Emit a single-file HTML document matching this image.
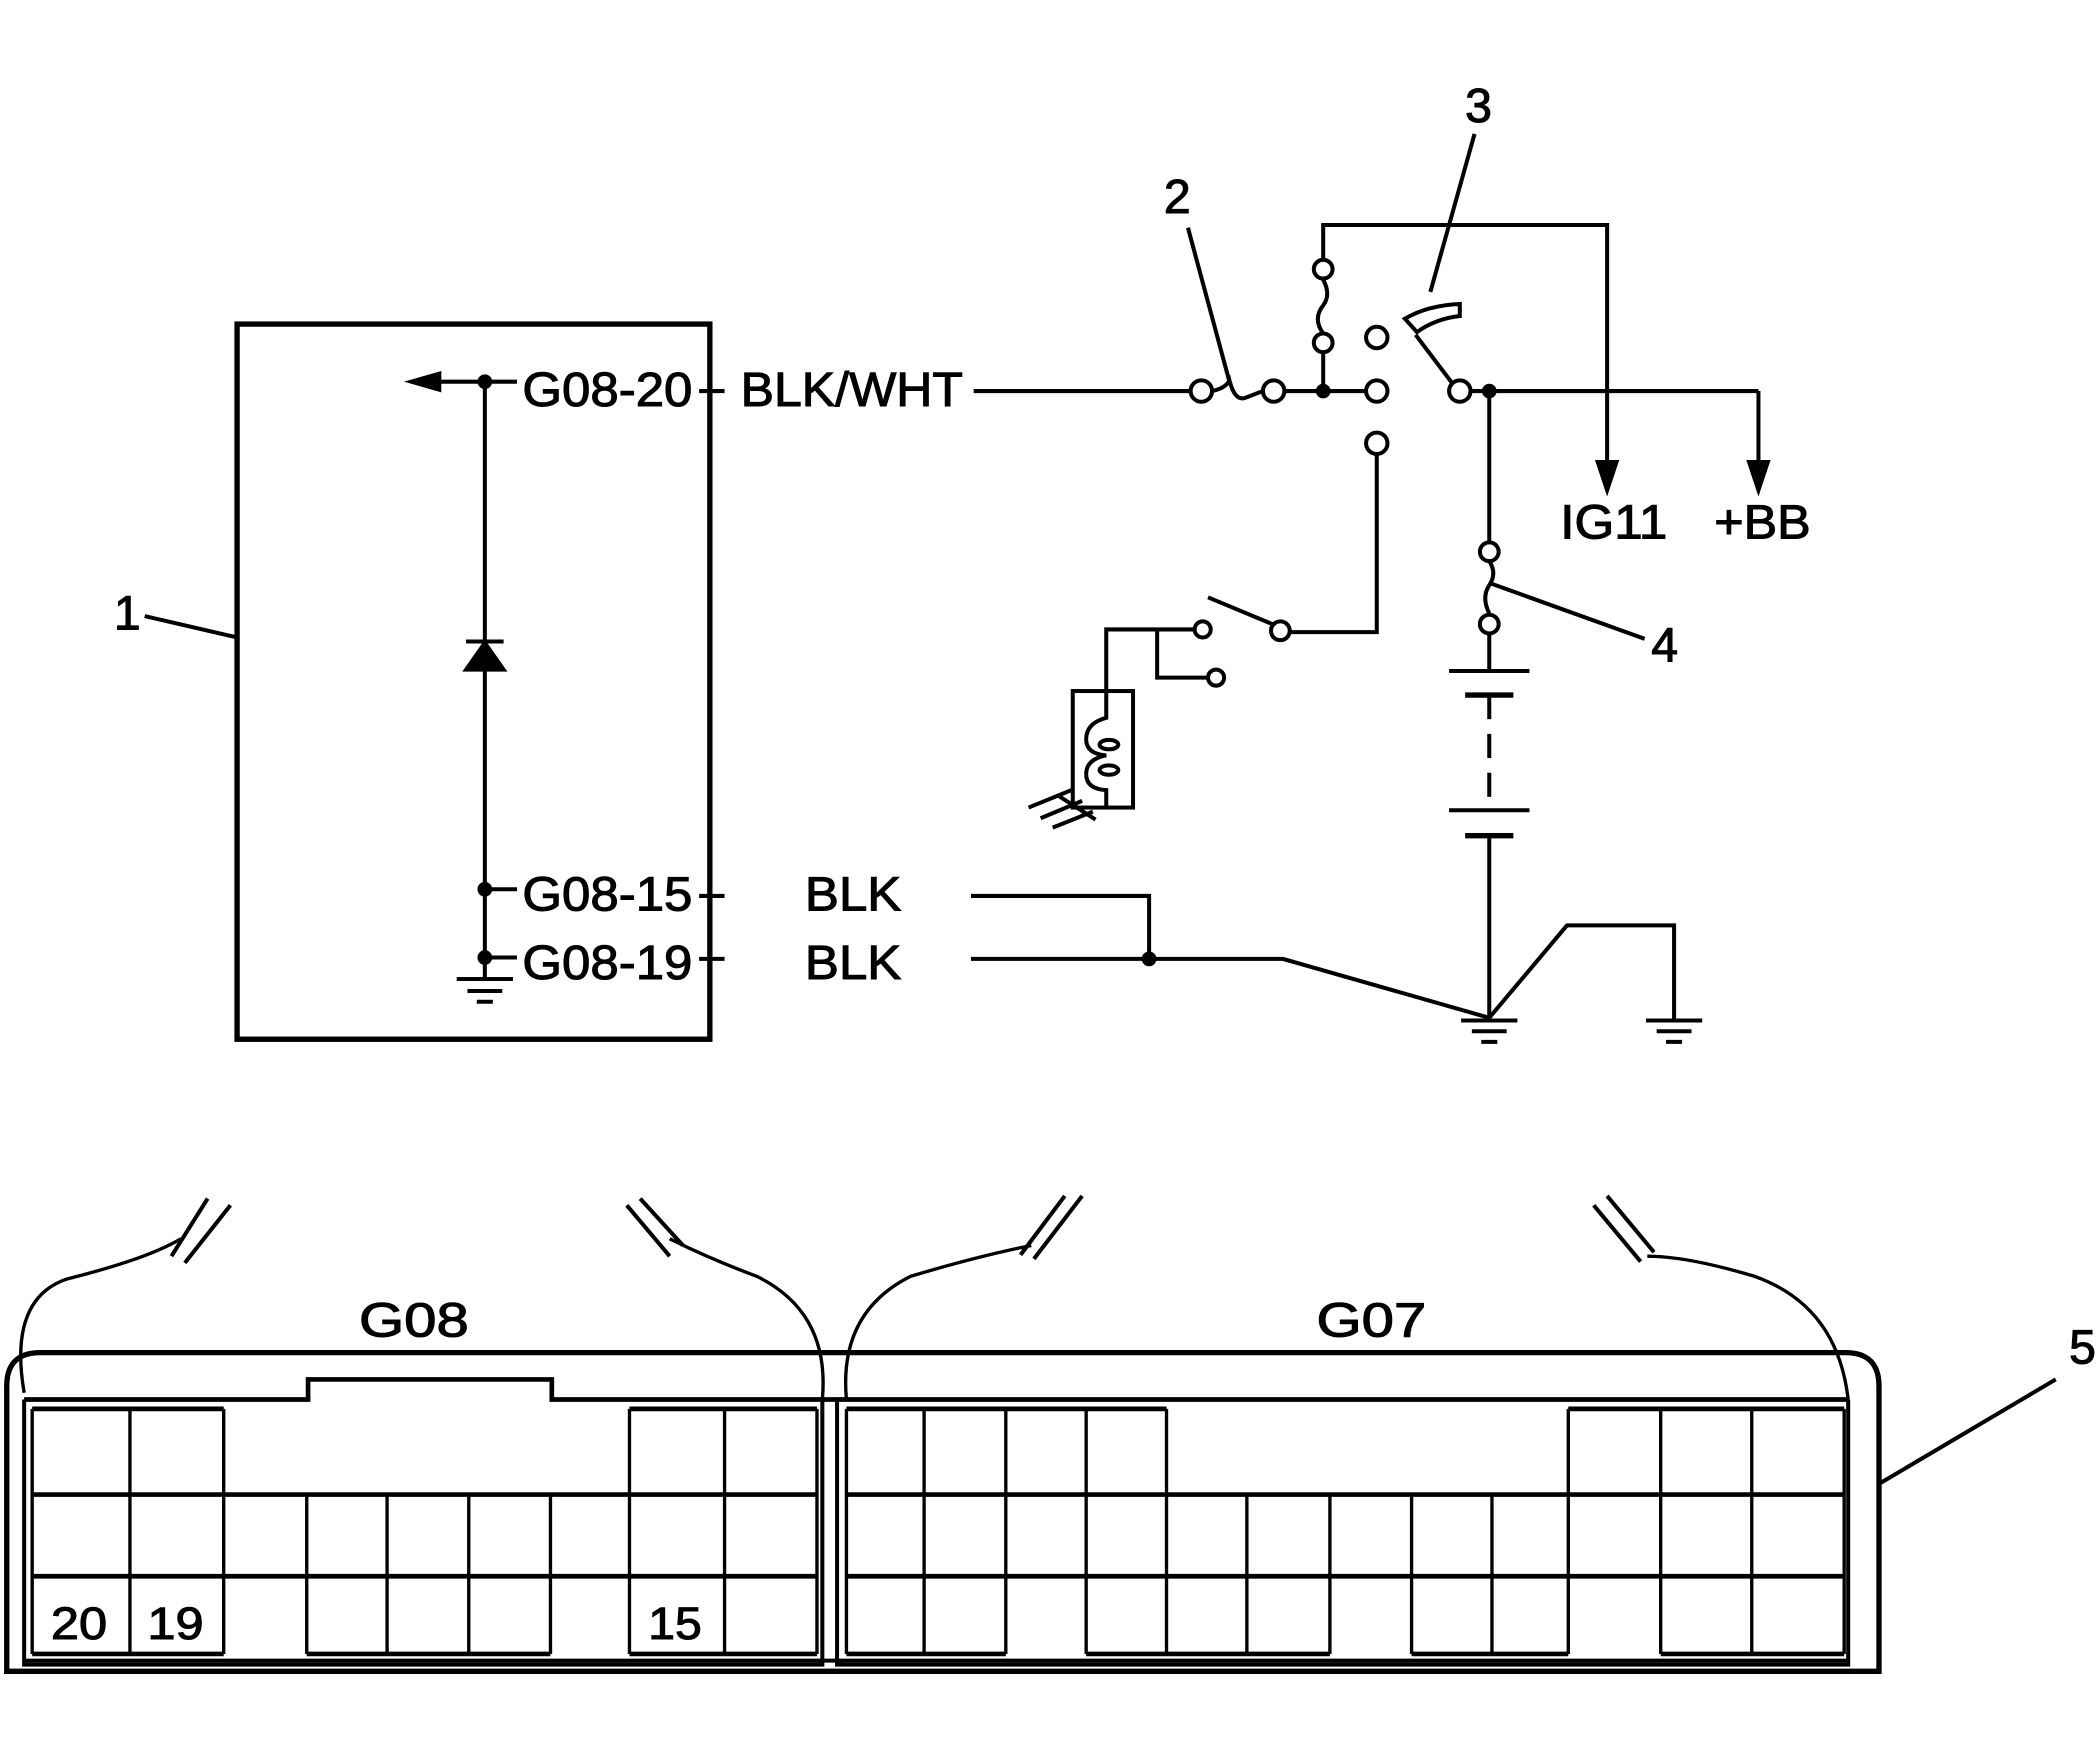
<!DOCTYPE html>
<html><head><meta charset="utf-8"><style>html,body{margin:0;padding:0;background:#fff}svg{display:block}</style></head>
<body>
<svg width="2100" height="1741" viewBox="0 0 1568 1300" xmlns="http://www.w3.org/2000/svg" font-family="Liberation Sans, sans-serif" fill="none" stroke="#000">
<g stroke-width="3">
<!-- box 1 -->
<rect x="177" y="242" width="353" height="534" stroke-width="4"/>
<line x1="108" y1="460" x2="177" y2="476"/>
<!-- internal -->
<line x1="362" y1="285" x2="362" y2="716"/>
<line x1="322" y1="285" x2="386" y2="285"/>
<polygon points="307,285 328,279 328,291" fill="#000"/>
<circle cx="362" cy="285" r="4" fill="#000"/>
<circle cx="362" cy="664" r="4" fill="#000"/>
<circle cx="362" cy="715" r="4" fill="#000"/>
<line x1="362" y1="664" x2="386" y2="664"/>
<line x1="362" y1="715" x2="386" y2="715"/>
<polygon points="348,500 376,500 362,480" fill="#000"/>
<line x1="348" y1="479" x2="376" y2="479" stroke-width="3"/>
<line x1="362" y1="715" x2="362" y2="730"/>
<line x1="341" y1="731" x2="383" y2="731" stroke-width="3"/>
<line x1="349" y1="740" x2="375" y2="740" stroke-width="3"/>
<line x1="356" y1="748" x2="368" y2="748" stroke-width="3"/>
<!-- pin ticks -->
<line x1="522" y1="292" x2="541" y2="292"/>
<line x1="522" y1="669" x2="541" y2="669"/>
<line x1="522" y1="716" x2="541" y2="716"/>
<!-- main wire -->
<line x1="727" y1="292" x2="888" y2="292"/>
<circle cx="897" cy="292" r="8" fill="#fff"/>
<path d="M905,292 Q915,290 918,284 Q922,300 930,297 L943,292"/>
<circle cx="951" cy="292" r="8" fill="#fff"/>
<line x1="959" y1="292" x2="1020" y2="292"/>
<circle cx="988" cy="292" r="4" fill="#000"/>
<line x1="988" y1="292" x2="988" y2="263"/>
<circle cx="988" cy="256" r="7" fill="#fff"/>
<path d="M988,249 Q980,238 988,228 Q994,220 988,209"/>
<circle cx="988" cy="201" r="7" fill="#fff"/>
<path d="M988,194 L988,168 L1200,168 L1200,350"/>
<polygon points="1193,345 1207,345 1200,366" fill="#000"/>
<circle cx="1028" cy="252" r="8" fill="#fff"/>
<circle cx="1028" cy="292" r="8" fill="#fff"/>
<circle cx="1028" cy="331" r="8" fill="#fff"/>
<path d="M1028,339 L1028,472 L963,472"/>
<circle cx="956" cy="471" r="7" fill="#fff"/>
<line x1="950" y1="466" x2="902" y2="446"/>
<circle cx="898" cy="470" r="6" fill="#fff"/>
<circle cx="908" cy="506" r="6" fill="#fff"/>
<path d="M892,470 L826,470 L826,516"/>
<path d="M902,506 L864,506 L864,470"/>
<rect x="801" y="516" width="45" height="87" stroke-width="3"/>
<path d="M826,516 L826,536 Q811,540 811,552 Q811,563 826,564 Q811,567 811,578 Q811,589 826,590 L826,603"/>
<ellipse cx="828" cy="556" rx="7" ry="3.5"/>
<ellipse cx="828" cy="575" rx="7" ry="3.5"/>
<line x1="790" y1="594" x2="818" y2="612" stroke-width="3"/>
<line x1="768" y1="603" x2="800" y2="590"/>
<line x1="777" y1="611" x2="808" y2="598"/>
<line x1="786" y1="618" x2="816" y2="606"/>
<!-- switch 3 -->
<path d="M1049,238 Q1066,228 1090,227 L1090,236 Q1072,238 1058,248 Z" fill="#fff"/>
<line x1="1057" y1="250" x2="1085" y2="287"/>
<line x1="1068" y1="218" x2="1101" y2="100"/>
<circle cx="1090" cy="292" r="8" fill="#fff"/>
<line x1="1098" y1="292" x2="1313" y2="292"/>
<circle cx="1112" cy="292" r="4" fill="#000"/>
<line x1="1313" y1="292" x2="1313" y2="350"/>
<polygon points="1306,345 1320,345 1313,366" fill="#000"/>
<line x1="1112" y1="292" x2="1112" y2="405"/>
<circle cx="1112" cy="412" r="7" fill="#fff"/>
<path d="M1112,419 Q1118,428 1112,437 Q1106,446 1112,458"/>
<circle cx="1112" cy="466" r="7" fill="#fff"/>
<line x1="1114" y1="436" x2="1228" y2="477"/>
<line x1="1112" y1="473" x2="1112" y2="501"/>
<line x1="1082" y1="501" x2="1142" y2="501" stroke-width="3"/>
<line x1="1094" y1="519" x2="1130" y2="519" stroke-width="4"/>
<line x1="1112" y1="519" x2="1112" y2="537"/>
<line x1="1112" y1="548" x2="1112" y2="566"/>
<line x1="1112" y1="577" x2="1112" y2="595"/>
<line x1="1082" y1="605" x2="1142" y2="605" stroke-width="3"/>
<line x1="1094" y1="624" x2="1130" y2="624" stroke-width="4"/>
<line x1="1112" y1="624" x2="1112" y2="760"/>
<!-- ground wires -->
<path d="M725,669 L858,669 L858,716"/>
<path d="M725,716 L958,716 L1112,760"/>
<circle cx="858" cy="716" r="4" fill="#000"/>
<path d="M1112,760 L1170,691 L1250,691 L1250,762"/>
<line x1="1091" y1="762" x2="1133" y2="762" stroke-width="3"/>
<line x1="1099" y1="770" x2="1125" y2="770" stroke-width="3"/>
<line x1="1106" y1="778" x2="1118" y2="778" stroke-width="3"/>
<line x1="1229" y1="762" x2="1271" y2="762" stroke-width="3"/>
<line x1="1237" y1="770" x2="1263" y2="770" stroke-width="3"/>
<line x1="1244" y1="778" x2="1256" y2="778" stroke-width="3"/>
<line x1="887" y1="170" x2="918" y2="285"/>
<!-- connector -->
<path d="M5,1248 L5,1035 Q5,1010 30,1010 L1378,1010 Q1403,1010 1403,1035 L1403,1248 Z" stroke-width="4"/>
<line x1="1403" y1="1108" x2="1535" y2="1030"/>
<path d="M18,1045 L230,1045 L230,1030 L412,1030 L412,1045 L1380,1045" stroke-width="3.5"/>
<path d="M18,1045 V1243 H614 V1045"/>
<path d="M625,1045 V1243 H1380 V1045"/>
<line x1="18" y1="1240" x2="1380" y2="1240" stroke-width="3"/>
<g stroke-width="3.5">
<line x1="24" y1="1052" x2="167" y2="1052"/><line x1="470" y1="1052" x2="610" y2="1052"/>
<line x1="632" y1="1052" x2="871" y2="1052"/><line x1="1171" y1="1052" x2="1377" y2="1052"/>
<line x1="24" y1="1116" x2="610" y2="1116"/><line x1="632" y1="1116" x2="1377" y2="1116"/>
<line x1="24" y1="1177" x2="610" y2="1177"/><line x1="632" y1="1177" x2="1377" y2="1177"/>
<line x1="24" y1="1235" x2="167" y2="1235"/><line x1="229" y1="1235" x2="411" y2="1235"/><line x1="470" y1="1235" x2="610" y2="1235"/>
<line x1="632" y1="1235" x2="751" y2="1235"/><line x1="811" y1="1235" x2="993" y2="1235"/><line x1="1054" y1="1235" x2="1171" y2="1235"/><line x1="1240" y1="1235" x2="1377" y2="1235"/>
</g>
<g stroke-width="2.5">
<path d="M24,1052V1235M97,1052V1235M167,1052V1235M470,1052V1235M541,1052V1235M610,1052V1235"/>
<path d="M229,1116V1235M289,1116V1235M350,1116V1235M411,1116V1235"/>
<path d="M632,1052V1235M690,1052V1235M751,1052V1235M811,1052V1235M871,1052V1235M1171,1052V1235M1240,1052V1235M1308,1052V1235M1377,1052V1235"/>
<path d="M931,1116V1235M993,1116V1235M1054,1116V1235M1114,1116V1235"/>
</g>
<!-- braces -->
<path d="M18,1040 Q6,970 50,955 Q110,940 135,925" stroke-width="2.5"/>
<line x1="128" y1="938" x2="155" y2="895"/><line x1="138" y1="943" x2="172" y2="900"/>
<path d="M614,1045 Q620,980 565,953 Q530,940 500,925" stroke-width="2.5"/>
<line x1="468" y1="900" x2="500" y2="938"/><line x1="478" y1="895" x2="510" y2="930"/>
<path d="M632,1045 Q626,980 680,953 Q730,938 770,930" stroke-width="2.5"/>
<line x1="762" y1="937" x2="795" y2="893"/><line x1="772" y1="940" x2="808" y2="893"/>
<path d="M1380,1045 Q1372,975 1310,953 Q1260,938 1230,938" stroke-width="2.5"/>
<line x1="1190" y1="900" x2="1225" y2="942"/><line x1="1200" y1="893" x2="1235" y2="935"/>
</g>
<g fill="#000" stroke="#000" stroke-width="0.8" font-size="36">
<text x="390" y="303" textLength="127" lengthAdjust="spacingAndGlyphs">G08-20</text>
<text x="553" y="303" textLength="166" lengthAdjust="spacingAndGlyphs">BLK/WHT</text>
<text x="390" y="680" textLength="127" lengthAdjust="spacingAndGlyphs">G08-15</text>
<text x="390" y="731" textLength="127" lengthAdjust="spacingAndGlyphs">G08-19</text>
<text x="601" y="680" textLength="72" lengthAdjust="spacingAndGlyphs">BLK</text>
<text x="601" y="731" textLength="72" lengthAdjust="spacingAndGlyphs">BLK</text>
<text x="1165" y="402" textLength="80" lengthAdjust="spacingAndGlyphs">IG11</text>
<text x="1280" y="402" textLength="72" lengthAdjust="spacingAndGlyphs">+BB</text>
<text x="85" y="470">1</text>
<text x="869" y="159">2</text>
<text x="1094" y="91">3</text>
<text x="1233" y="494">4</text>
<text x="1545" y="1018">5</text>
<text x="268" y="998" textLength="82" lengthAdjust="spacingAndGlyphs">G08</text>
<text x="983" y="998" textLength="82" lengthAdjust="spacingAndGlyphs">G07</text>
<text x="38" y="1224" font-size="34" textLength="42" lengthAdjust="spacingAndGlyphs">20</text>
<text x="110" y="1224" font-size="34" textLength="42" lengthAdjust="spacingAndGlyphs">19</text>
<text x="484" y="1224" font-size="34" textLength="40" lengthAdjust="spacingAndGlyphs">15</text>
</g>
</svg>
</body></html>
